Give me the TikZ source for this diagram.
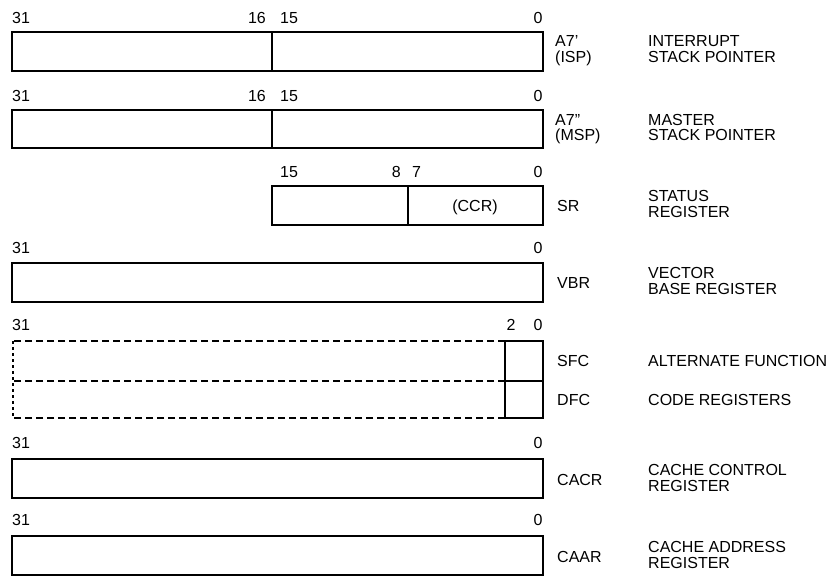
\documentclass[tikz,border=0pt]{standalone}
\usepackage{fontspec}
\setmainfont{Liberation Sans}
\begin{document}
\begin{tikzpicture}[x=1pt,y=-1pt,
  txt/.style={inner sep=0pt,font=\fontsize{16}{17}\selectfont},
  lbl/.style={txt,anchor=base west},
  num/.style={txt,anchor=base},
  boxline/.style={line width=1.4pt},
  dashline/.style={line width=1.4pt,dash pattern=on 7pt off 4pt},
  vdash/.style={line width=1.4pt,dash pattern=on 3pt off 3pt}]
\useasboundingbox (0,0) rectangle (837,577);
% ---- ISP
\node[lbl] (n31a) at (12,23.5) {31};
\node[txt,anchor=base east] (n16a) at (266,23.5) {16};
\node[lbl] (n15a) at (280,23.5) {15};
\node[num] (n0a) at (538,23.5) {0};
\draw[boxline] (12,32) rectangle (543,71);
\draw[boxline] (272,32) -- (272,71);
\node[lbl] (a7a) at (555,46.5) {A7'};
\node[lbl] (ispl) at (555,62.5) {(ISP)};
\node[lbl] (d1a) at (648,46.5) {INTERRUPT};
\node[lbl] (d1b) at (648,62.5) {STACK POINTER};
% ---- MSP
\node[lbl] (n31b) at (12,101.5) {31};
\node[txt,anchor=base east] (n16b) at (266,101.5) {16};
\node[lbl] (n15b) at (280,101.5) {15};
\node[num] (n0b) at (538,101.5) {0};
\draw[boxline] (12,110) rectangle (543,148);
\draw[boxline] (272,110) -- (272,148);
\node[lbl] (a7b) at (555,125.5) {A7''};
\node[lbl] (mspl) at (555,141) {(MSP)};
\node[lbl] (d2a) at (648,125.5) {MASTER};
\node[lbl] (d2b) at (648,141) {STACK POINTER};
% ---- SR
\node[lbl] (n15c) at (280,177.5) {15};
\node[txt,anchor=base east] (n8c) at (401,177.5) {8};
\node[lbl] (n7c) at (412,177.5) {7};
\node[num] (n0c) at (538,177.5) {0};
\draw[boxline] (272,186) rectangle (543,225);
\draw[boxline] (408,186) -- (408,225);
\node[num] (ccr) at (475,211.5) {(CCR)};
\node[lbl] (sr) at (557,211.5) {SR};
\node[lbl] (d3a) at (648,201.5) {STATUS};
\node[lbl] (d3b) at (648,217.5) {REGISTER};
% ---- VBR
\node[lbl] (n31d) at (12,253.5) {31};
\node[num] (n0d) at (538,253.5) {0};
\draw[boxline] (12,263) rectangle (543,302);
\node[lbl] (vbr) at (557,288.5) {VBR};
\node[lbl] (d4a) at (648,278.5) {VECTOR};
\node[lbl] (d4b) at (648,294.5) {BASE REGISTER};
% ---- SFC / DFC
\node[lbl] (n31e) at (12,330.5) {31};
\node[num] (n2e) at (511,330.5) {2};
\node[num] (n0e) at (538,330.5) {0};
\draw[dashline] (505,341) -- (12,341);
\draw[dashline] (505,381) -- (12,381);
\draw[dashline] (505,418) -- (12,418);
\draw[vdash] (13,341) -- (13,418);
\draw[boxline] (505,341) rectangle (543,418);
\draw[boxline] (505,381) -- (543,381);
\node[lbl] (sfc) at (557,366.5) {SFC};
\node[lbl] (dfc) at (557,405.5) {DFC};
\node[lbl] (d5a) at (648,366) {ALTERNATE FUNCTION};
\node[lbl] (d5b) at (648,405.5) {CODE REGISTERS};
% ---- CACR
\node[lbl] (n31f) at (12,448.5) {31};
\node[num] (n0f) at (538,448.5) {0};
\draw[boxline] (12,459) rectangle (543,498);
\node[lbl] (cacr) at (557,485.5) {CACR};
\node[lbl] (d6a) at (648,475.5) {CACHE CONTROL};
\node[lbl] (d6b) at (648,491.5) {REGISTER};
% ---- CAAR
\node[lbl] (n31g) at (12,525.5) {31};
\node[num] (n0g) at (538,525.5) {0};
\draw[boxline] (12,536) rectangle (543,575);
\node[lbl] (caar) at (557,562.5) {CAAR};
\node[lbl] (d7a) at (648,552.5) {CACHE ADDRESS};
\node[lbl] (d7b) at (648,568.5) {REGISTER};
\end{tikzpicture}
\end{document}
